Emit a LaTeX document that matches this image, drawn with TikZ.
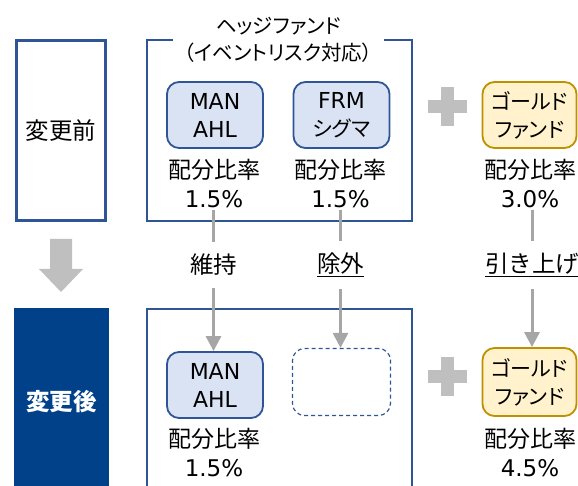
\documentclass[tikz,border=0pt]{standalone}
\usepackage{fontspec}
\setmainfont{DejaVu Sans}
\newfontfamily\cjk{Noto Sans CJK JP}
\newfontfamily\cjkp[RawFeature=+palt]{Noto Sans CJK JP}
\usetikzlibrary{arrows.meta}
\definecolor{bluebd}{RGB}{47,85,151}
\definecolor{lightblue}{RGB}{218,227,243}
\definecolor{darkblue}{RGB}{0,65,138}
\definecolor{goldbd}{RGB}{191,144,0}
\definecolor{goldfill}{RGB}{255,242,204}
\definecolor{grayline}{RGB}{166,166,166}
\definecolor{graybig}{RGB}{191,191,191}
\newcommand{\kp}[1]{{\fontsize{21}{28}\selectfont\cjkp #1}}
\newcommand{\kj}[1]{{\cjk #1}}
\begin{document}
\begin{tikzpicture}[x=1pt,y=-1pt,
  fundbox/.style={draw=bluebd, fill=lightblue, line width=1.8pt, rounded corners=12pt,
    minimum width=96pt, minimum height=66pt, align=center, inner sep=0pt,
    font=\fontsize{22}{28}\selectfont},
  goldbox/.style={fundbox, draw=goldbd, fill=goldfill, minimum width=94pt},
  emptybox/.style={draw=bluebd, dashed, dash pattern=on 4pt off 3pt, line width=1.2pt,
    rounded corners=12pt, minimum width=98pt, minimum height=67pt, inner sep=0pt},
  pct/.style={align=center, inner sep=1pt, font=\fontsize{23}{29}\selectfont},
  lbl/.style={inner xsep=2pt, inner ysep=12pt, font=\fontsize{23.5}{27}\selectfont\cjk},
  conn/.style={draw=grayline, line width=3pt},
  arr/.style={conn, -{Triangle[width=15pt,length=15pt]}},
  hedge/.style={draw=bluebd, line width=1.3pt},
  plus/.style={fill=graybig},
  stage/.style={minimum width=89pt, align=center, inner sep=0pt,
    font=\fontsize{23.5}{27}\selectfont\cjk}
]
\useasboundingbox (0,0) rectangle (578,486);

% stage boxes
\node[stage, draw=bluebd, line width=3pt, fill=white, minimum height=180pt] (before) at (61,130.5) {変更前};
\node[stage, fill=darkblue, text=white, minimum width=95pt, minimum height=188pt] (after) at (61.5,402) {\bfseries 変更後};

% big down arrow
\fill[graybig] (50,239) -- (72,239) -- (72,269) -- (83,269) -- (61,292) -- (39,269) -- (50,269) -- cycle;

% hedge fund frames
\node[align=center, inner sep=0pt, font=\fontsize{20.5}{27}\selectfont\cjkp] (title) at (278.5,39.5) {ヘッジファンド\\（イベントリスク対応）};
\draw[hedge] (173,40) -- (147,40) -- (147,221) -- (412,221) -- (412,40) -- (384,40);
\draw[hedge] (147,490) -- (147,309) -- (412,309) -- (412,490);

% top row
\node[fundbox] (man1) at (215,115) {MAN\\AHL};
\node[fundbox] (frm1) at (341.5,115) {FRM\\\kp{シグマ}};
\node[goldbox] (gold1) at (529.5,115) {\kp{ゴールド}\\\kp{ファンド}};
\node[pct] (p1) at (214,184) {\kj{配分比率}\\1.5\%};
\node[pct] (p2) at (340.5,184) {\kj{配分比率}\\1.5\%};
\node[pct] (p3) at (530,184) {\kj{配分比率}\\3.0\%};

% plus signs
\fill[plus] (428,100) rectangle (467,113);
\fill[plus] (441,87) rectangle (454,126);
\fill[plus] (428,370) rectangle (467,383);
\fill[plus] (441,357) rectangle (454,396);

% labels
\node[lbl] (l1) at (213.5,265) {維持};
\node[lbl] (l2) at (340.5,265) {\underline{除外}};
\node[lbl] (l3) at (532,265) {\underline{引き上げ}};

% bottom row
\node[fundbox] (man2) at (215,385) {MAN\\AHL};
\node[emptybox] (empty) at (341.5,382) {};
\node[goldbox, minimum height=68pt] (gold2) at (529.5,382) {\kp{ゴールド}\\\kp{ファンド}};
\node[pct] (q1) at (214,453) {\kj{配分比率}\\1.5\%};
\node[pct] (q3) at (530,453) {\kj{配分比率}\\4.5\%};

% connectors
\draw[conn] (p1.south -| l1) -- (l1.north);
\draw[conn] (p2.south -| l2) -- (l2.north);
\draw[conn] (p3.south -| l3) -- (l3.north);
\draw[arr] (l1.south) -- (l1.south |- man2.north);
\draw[arr] (l2.south) -- (l2.south |- empty.north);
\draw[arr] (l3.south) -- (l3.south |- gold2.north);
\end{tikzpicture}
\end{document}
